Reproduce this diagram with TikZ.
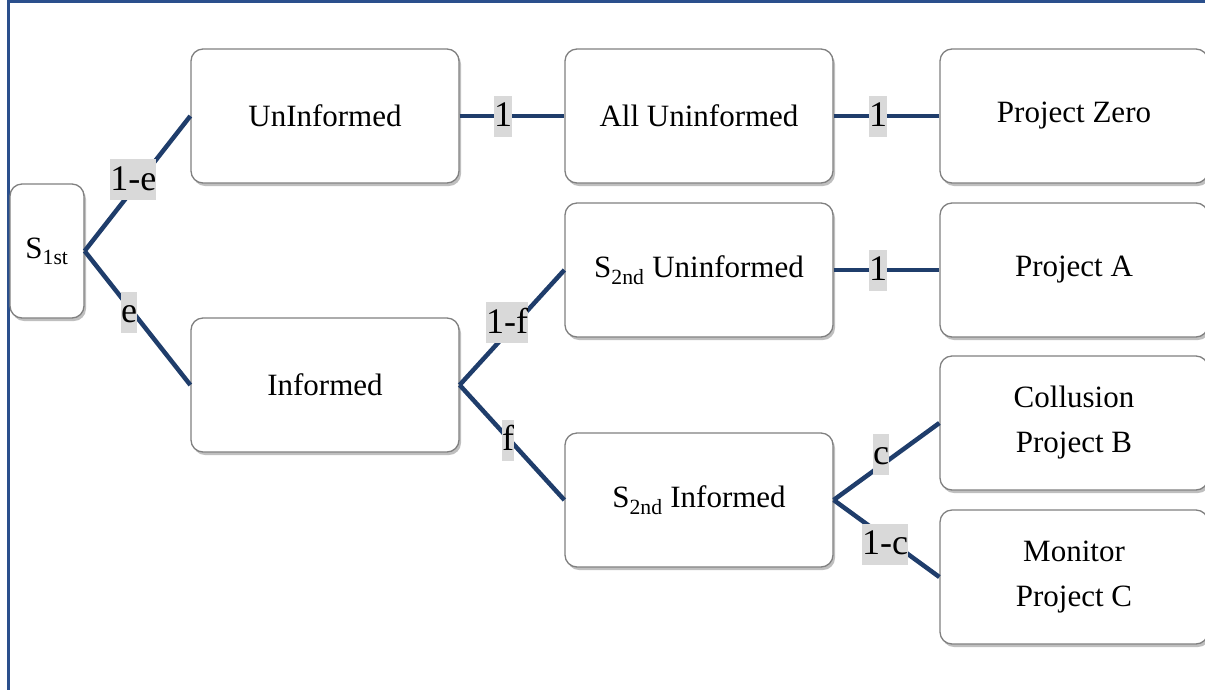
\documentclass[tikz,border=0pt]{standalone}
\usepackage{fontspec}
\setmainfont{Liberation Serif}
\usetikzlibrary{shadows}
\definecolor{conncol}{HTML}{1F3D6B}
\definecolor{framecol}{HTML}{2A4F8C}
\definecolor{boxline}{HTML}{808080}
\definecolor{lblfill}{HTML}{D9D9D9}
\begin{document}
\begin{tikzpicture}[x=1pt,y=-1pt,
  box/.style={draw=boxline, line width=1.3pt, fill=white, rounded corners=12pt,
    minimum width=268pt, minimum height=134pt, inner sep=0pt, align=center,
    font=\fontsize{31}{45}\selectfont,
    drop shadow={shadow xshift=2pt, shadow yshift=-3pt, opacity=.5, fill=gray}},
  conn/.style={draw=conncol, line width=4.5pt},
  lbl/.style={fill=lblfill, inner xsep=0pt, inner ysep=1pt, text height=30pt, text depth=9pt,
    font=\fontsize{36}{40}\selectfont, text=black}]
\useasboundingbox (0,0) rectangle (1205,689);
\begin{scope}
\clip (0,0) rectangle (1205,689);
\draw[framecol, line width=3pt] (8,1) rectangle (1215,700);

\node[box, minimum width=74pt] (s1) at (47,251) {S\textsubscript{1st}};
\node[box] (un) at (325,116) {UnInformed};
\node[box] (inf) at (325,385) {Informed};
\node[box] (allun) at (699,116) {All Uninformed};
\node[box] (s2un) at (699,270) {S\textsubscript{2nd} Uninformed};
\node[box] (s2inf) at (699,500) {S\textsubscript{2nd} Informed};
\node[box] (pz) at (1074,116) {Project Zero};
\node[box] (pa) at (1074,270) {Project A};
\node[box] (pb) at (1074,423) {Collusion\\Project B};
\node[box] (pc) at (1074,577) {Monitor\\Project C};

\draw[conn] (s1.east) -- (un.west) node[lbl, pos=.46, yshift=9pt] {1-e};
\draw[conn] (s1.east) -- (inf.west) node[lbl, pos=.42, yshift=-5pt] {e};
\draw[conn] (un.east) -- (allun.west) node[lbl, pos=.415] {1};
\draw[conn] (allun.east) -- (pz.west) node[lbl, pos=.42] {1};
\draw[conn] (inf.east) -- (s2un.west) node[lbl, pos=.453, yshift=10pt] {1-f};
\draw[conn] (inf.east) -- (s2inf.west) node[lbl, pos=.462, yshift=-2pt] {f};
\draw[conn] (s2un.east) -- (pa.west) node[lbl, pos=.42] {1};
\draw[conn] (s2inf.east) -- (pb.west) node[lbl, pos=.45, yshift=11pt] {c};
\draw[conn] (s2inf.east) -- (pc.west) node[lbl, pos=.486, yshift=-7pt] {1-c};
\end{scope}
\end{tikzpicture}
\end{document}
